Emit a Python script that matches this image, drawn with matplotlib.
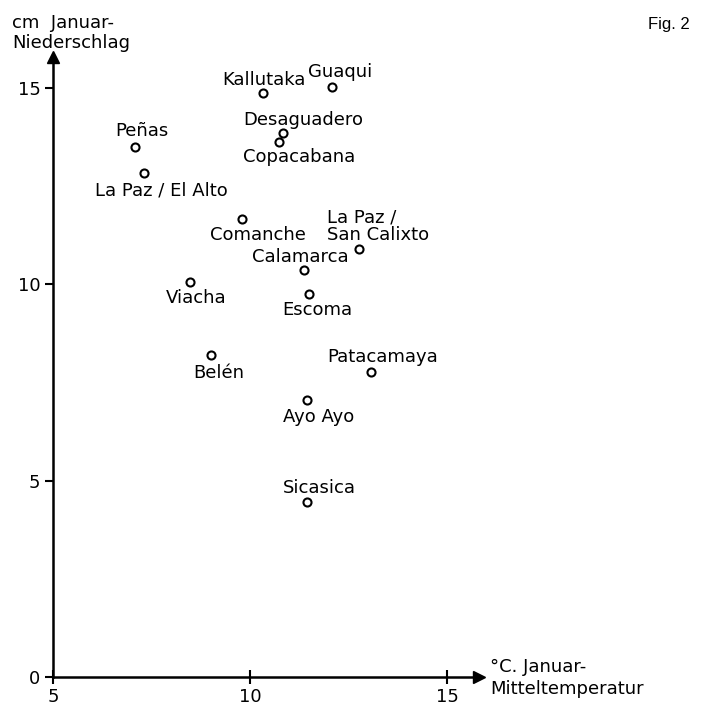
"""
Fig. 2 - Januar-Niederschlag gegen Januar-Mitteltemperatur (Altiplano-Stationen)
"""

import matplotlib
matplotlib.use('Agg')
import matplotlib.pyplot as plt

# Station data
stations = ['Kallutaka', 'Guaqui', 'Desaguadero', 'Copacabana', 'Peñas',
            'La Paz / El Alto', 'Comanche', 'La Paz /\nSan Calixto', 'Calamarca',
            'Viacha', 'Escoma', 'Belén', 'Patacamaya', 'Ayo Ayo', 'Sicasica']
temp_jan = [10.33, 12.08, 10.84, 10.74, 7.08,
            7.31, 9.80, 12.77, 11.37,
            8.48, 11.50, 9.01, 13.07, 11.45, 11.45]
precip_jan = [14.87, 15.02, 13.85, 13.62, 13.50,
              12.83, 11.66, 10.89, 10.36,
              10.06, 9.75, 8.20, 7.77, 7.06, 4.46]

x_ticks = [5, 10, 15]
y_ticks = [0, 5, 10, 15]

# label placement relative to the marker (pixels), alignment
label_style = {
    'Kallutaka': ((1, 13), 'center'),
    'Guaqui': ((8, 15), 'center'),
    'Desaguadero': ((20, 13), 'center'),
    'Copacabana': ((20, -15), 'center'),
    'Peñas': ((7, 16), 'center'),
    'La Paz / El Alto': ((17, -17), 'center'),
    'Comanche': ((16, -16), 'center'),
    'La Paz /\nSan Calixto': ((-32, 23), 'left'),
    'Calamarca': ((-4, 13), 'center'),
    'Viacha': ((6, -16), 'center'),
    'Escoma': ((8, -16), 'center'),
    'Belén': ((8, -18), 'center'),
    'Patacamaya': ((12, 15), 'center'),
    'Ayo Ayo': ((11, -17), 'center'),
    'Sicasica': ((12, 14), 'center'),
}

FONT = 'DejaVu Sans'
FS = 13

fig = plt.figure(figsize=(7.02, 7.06), dpi=100)
W, H = 702, 706
left, right, top, bottom = 53, 479, 57, 677
ax = fig.add_axes([left / W, (H - bottom) / H, (right - left) / W, (bottom - top) / H])

ax.set_xlim(5, 5 + (right - left) / 39.4)
ax.set_ylim(0, (bottom - top) / 39.27)

ax.plot(temp_jan, precip_jan, 'o', ms=5.8, mfc='white', mec='black', mew=1.5,
        linestyle='none', zorder=3)

for name, x, y in zip(stations, temp_jan, precip_jan):
    (dx, dy), ha = label_style[name]
    ax.annotate(name, (x, y), xytext=(dx, dy), textcoords='offset pixels',
                ha=ha, va='center', fontsize=FS, family=FONT, linespacing=0.95)

# axes styling
for s in ['top', 'right']:
    ax.spines[s].set_visible(False)
for s in ['left', 'bottom']:
    ax.spines[s].set_linewidth(1.8)
ax.set_xticks(x_ticks)
ax.set_yticks(y_ticks)
ax.tick_params(axis='x', direction='inout', length=10, width=1.5, labelsize=FS, pad=3)
ax.tick_params(axis='y', direction='out', length=6, width=1.5, labelsize=FS, pad=3)
for lab in ax.get_xticklabels() + ax.get_yticklabels():
    lab.set_family(FONT)

# arrow heads
ax.plot(1, 0, '>', color='black', ms=9, transform=ax.transAxes, clip_on=False)
ax.plot(0, 1, '^', color='black', ms=9, transform=ax.transAxes, clip_on=False)

# axis titles
fig.text(12 / W, 1 - 33 / H, 'cm  Januar-\nNiederschlag', ha='left', va='center',
         fontsize=FS, family=FONT, linespacing=1.2)
fig.text(490 / W, 1 - 678 / H, '°C. Januar-\nMitteltemperatur', ha='left', va='center',
         fontsize=FS, family=FONT, linespacing=1.3)
fig.text(690 / W, 1 - 25 / H, 'Fig. 2', ha='right', va='center',
         fontsize=12, family='Liberation Sans')

plt.savefig('out.png', dpi=100)
